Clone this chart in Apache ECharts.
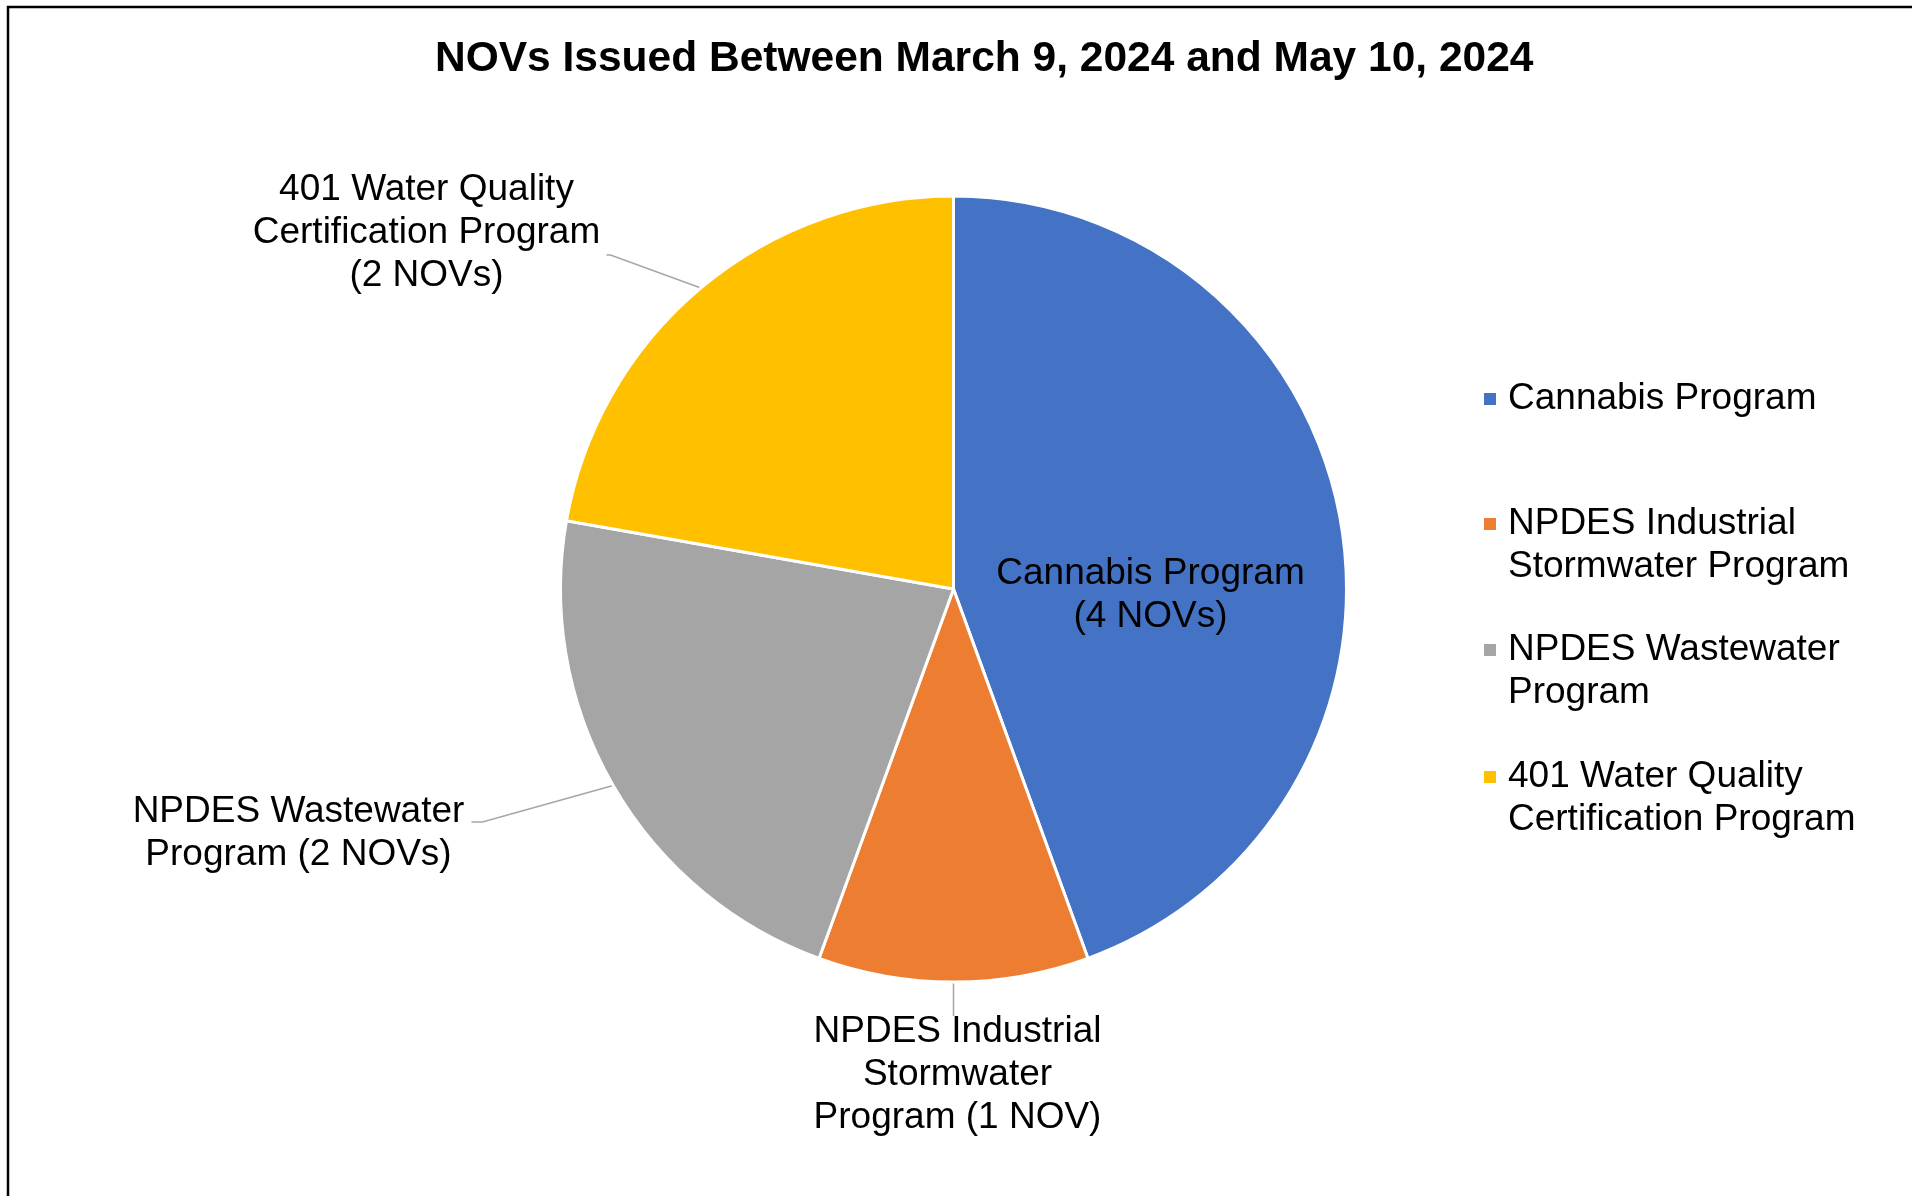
<!DOCTYPE html>
<html>
<head>
<meta charset="utf-8">
<script src="https://cdn.jsdelivr.net/npm/echarts@6/dist/echarts.min.js"></script>
<style>
  html, body { margin: 0; padding: 0; background: #fff; }
  #chart { width: 1912px; height: 1196px; }
</style>
</head>
<body>
<div id="chart"></div>
<script>
// -----------------------------------------------------------------------------
// NOVs issued - pie with outside labels + right legend
// -----------------------------------------------------------------------------
const titleText = "NOVs Issued Between March 9, 2024 and May 10, 2024";
const programs = [
  "Cannabis Program",
  "NPDES Industrial Stormwater Program",
  "NPDES Wastewater Program",
  "401 Water Quality Certification Program"
];
const novCounts = [4, 1, 2, 2];
// texte des etiquettes, %s = nombre de NOVs
const sliceLabels = [
  "Cannabis Program\n(%s)",
  "NPDES Industrial\nStormwater\nProgram (%s)",
  "NPDES Wastewater\nProgram (%s)",
  "401 Water Quality\nCertification Program\n(%s)"
];
const legendLabels = [
  "Cannabis Program",
  "NPDES Industrial\nStormwater Program",
  "NPDES Wastewater\nProgram",
  "401 Water Quality\nCertification Program"
];

const COLORS = ["#4472C4", "#ED7D31", "#A5A5A5", "#FFC000"];
const FONT = "'Liberation Sans', Arial, sans-serif";
const CX = 953.5;
const CY = 589;
const R = 393;
// centre du texte de chaque etiquette, relatif au centre du camembert
const LABEL_OFFSETS = [[197, 6.5], [4, 485.5], [-655, 244.5], [-527, -356.5]];
// coude et fin des traits de rappel, relatifs au centre (null = pas de trait)
const LEADER_POINTS = [
  null,
  [[0, 427], [0, 427]],
  [[-471, 233], [-482, 233]],
  [[-343, -334], [-347, -334]]
];
const LEGEND_ICON_Y = [399, 524, 650, 777];

function novText(v) {
  return `${v} NOV${v === 1 ? "" : "s"}`;
}

function edgePoint(i) {
  const total = novCounts.reduce((a, b) => a + b, 0);
  const before = novCounts.slice(0, i).reduce((a, b) => a + b, 0);
  const a = (2 * Math.PI * (before + novCounts[i] / 2)) / total;
  return [CX + R * Math.sin(a), CY - R * Math.cos(a)];
}

function legendFor(i) {
  const lines = legendLabels[i].split("\n").length;
  const extra = (lines - 1) * 43;
  // ligne vide en tete : la pastille reste alignee sur la 1re ligne
  const text = lines > 1 ? "\n" + legendLabels[i] : legendLabels[i];
  return {
    orient: "vertical",
    left: 1482,
    top: LEGEND_ICON_Y[i] - 21.5 - extra,
    padding: 0,
    itemWidth: 14,
    itemHeight: 14,
    icon: "rect",
    selectedMode: false,
    data: [programs[i]],
    formatter: () => text,
    textStyle: {
      fontFamily: FONT,
      fontSize: 37,
      lineHeight: 43,
      color: "#000",
      padding: [0, 0, 0, 6]
    }
  };
}

const chart = echarts.init(document.getElementById("chart"));

chart.setOption({
  animation: false,
  backgroundColor: "#fff",
  color: COLORS,
  title: {
    text: titleText,
    left: 430,
    top: 29.5,
    textStyle: {
      fontFamily: FONT,
      fontSize: 42.5,
      fontWeight: "bold",
      lineHeight: 50,
      color: "#000"
    }
  },
  graphic: [{
    type: "rect",
    silent: true,
    shape: { x: 8, y: 7, width: 4000, height: 4000 },
    style: { fill: "none", stroke: "#000", lineWidth: 2.5 }
  }],
  legend: programs.map((_, i) => legendFor(i)),
  series: [{
    type: "pie",
    center: [CX, CY],
    radius: R,
    startAngle: 90,
    clockwise: true,
    avoidLabelOverlap: false,
    itemStyle: { borderColor: "#fff", borderWidth: 3 },
    label: {
      show: true,
      position: "outside",
      fontFamily: FONT,
      fontSize: 37,
      lineHeight: 43,
      color: "#000",
      formatter: (p) => sliceLabels[p.dataIndex].replace("%s", novText(p.value))
    },
    labelLine: {
      show: true,
      length: 20,
      length2: 6,
      lineStyle: { color: "#A6A6A6", width: 1.5 }
    },
    labelLayout: (params) => {
      const i = params.dataIndex;
      const off = LABEL_OFFSETS[i];
      const out = { x: CX + off[0], y: CY + off[1], align: "center", verticalAlign: "middle" };
      if (LEADER_POINTS[i]) {
        out.labelLinePoints = [edgePoint(i)].concat(
          LEADER_POINTS[i].map((p) => [CX + p[0], CY + p[1]])
        );
      }
      return out;
    },
    emphasis: { disabled: true },
    data: programs.map((name, i) => ({
      name,
      value: novCounts[i],
      label: i === 0 ? { position: "inside" } : undefined,
      labelLine: i === 0 ? { show: false } : undefined
    }))
  }]
});
</script>
</body>
</html>
